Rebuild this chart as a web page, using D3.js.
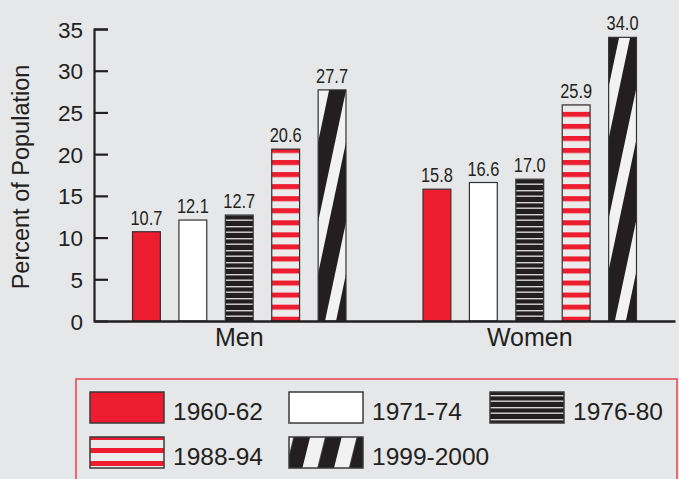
<!DOCTYPE html>
<html>
<head>
<meta charset="utf-8">
<script src="https://cdn.jsdelivr.net/npm/d3@7"></script>
<style>
  html, body { margin: 0; padding: 0; background: #e6e7e8; }
  svg { display: block; }
  text { fill: #231f20; }
</style>
</head>
<body>
<svg id="chart" width="679" height="479"></svg>
<script>
// ---- data ----
const groups = ["Men", "Women"];
const periods = ["1960-62", "1971-74", "1976-80", "1988-94", "1999-2000"];
const menValues = [10.7, 12.1, 12.7, 20.6, 27.7];
const womenValues = [15.8, 16.6, 17.0, 25.9, 34.0];
const yTicks = [0, 5, 10, 15, 20, 25, 30, 35];
const yLabel = "Percent of Population";

const valuesByGroup = { Men: menValues, Women: womenValues };

// ---- styles ----
const RED = "#ed1c2e";
const BLACK = "#231f20";
const LIGHT = "#ebebeb";
const STROKE = "#333333";
const FONT = "'Liberation Sans', Arial, sans-serif";

const svg = d3.select("#chart");
const defs = svg.append("defs");

const y = d3.scaleLinear().domain([0, 35]).range([321, 29]);
const x0 = d3.scaleBand().domain(groups).range([94, 675]).padding(0);
const x1 = d3.scaleBand().domain(periods).range([0, x0.bandwidth()])
  .paddingInner(0.4).paddingOuter(0.83);

// pattern helpers
function redStripes(id, anchorY, period) {
  const p = defs.append("pattern").attr("id", id)
    .attr("patternUnits", "userSpaceOnUse")
    .attr("x", 0).attr("y", anchorY).attr("width", 10).attr("height", period);
  p.append("rect").attr("width", 10).attr("height", period).attr("fill", LIGHT);
  p.append("rect").attr("width", 10).attr("height", 5).attr("fill", RED);
  return `url(#${id})`;
}
function blackLines(id, anchorY) {
  const p = defs.append("pattern").attr("id", id)
    .attr("patternUnits", "userSpaceOnUse")
    .attr("x", 0).attr("y", anchorY).attr("width", 10).attr("height", 12);
  p.append("rect").attr("width", 10).attr("height", 12).attr("fill", BLACK);
  p.append("rect").attr("y", 2).attr("width", 10).attr("height", 1.4).attr("fill", "#d4d4d4");
  p.append("rect").attr("y", 7.5).attr("width", 10).attr("height", 1.4).attr("fill", "#d4d4d4");
  return `url(#${id})`;
}
function diag(id, tx, ty, period, white, angle) {
  const p = defs.append("pattern").attr("id", id)
    .attr("patternUnits", "userSpaceOnUse")
    .attr("width", period).attr("height", 20)
    .attr("patternTransform", `translate(${tx},${ty}) skewX(${-angle})`);
  p.append("rect").attr("width", period).attr("height", 20).attr("fill", BLACK);
  p.append("rect").attr("width", white).attr("height", 20).attr("fill", "#f2f2f2");
  return `url(#${id})`;
}

const barRedStripes = redStripes("redStripesBar", y(0) - 4.3, 12.05);
const barBlackLines = blackLines("blackLinesBar", y(0) - 1);

function fillFor(period, gi, bx, by) {
  switch (period) {
    case "1960-62": return RED;
    case "1971-74": return "#ffffff";
    case "1976-80": return barBlackLines;
    case "1988-94": return barRedStripes;
    default: return diag(`diagBar${gi}`, bx + 18, by, 28, 11, 12);
  }
}

// ---- axes ----
const yAxis = d3.axisLeft(y).tickValues(yTicks).tickSize(-14).tickPadding(11)
  .tickFormat(d3.format("d"));
const gy = svg.append("g").attr("transform", "translate(94,0)").call(yAxis);
gy.select(".domain").attr("stroke", BLACK).attr("stroke-width", 2.2);
gy.selectAll(".tick line").attr("stroke", BLACK).attr("stroke-width", 2.2);
gy.selectAll(".tick text").attr("font-family", FONT).attr("font-size", 22.5)
  .attr("fill", BLACK).attr("dy", "0.36em");
gy.selectAll(".tick").filter(d => d === 0).select("line").remove();

svg.append("text")
  .attr("transform", `translate(29,177) rotate(-90)`)
  .attr("text-anchor", "middle")
  .attr("font-family", FONT).attr("font-size", 23.5)
  .text(yLabel);

// ---- bars ----
groups.forEach((g, gi) => {
  const gEl = svg.append("g").attr("transform", `translate(${x0(g)},0)`);
  const vals = valuesByGroup[g];
  periods.forEach((p, i) => {
    const v = vals[i];
    const bx = x0(g) + x1(p);
    const by = y(v);
    gEl.append("rect")
      .attr("x", x1(p)).attr("y", by)
      .attr("width", x1.bandwidth()).attr("height", y(0) - by)
      .attr("fill", fillFor(p, gi, bx, by))
      .attr("stroke", STROKE).attr("stroke-width", 1.2);
    gEl.append("text")
      .attr("transform", `translate(${x1(p) + x1.bandwidth() / 2},${by - 7}) scale(0.78,1)`)
      .attr("text-anchor", "middle")
      .attr("font-family", FONT).attr("font-size", 21)
      .text(d3.format(".1f")(v));
  });
});

// x axis
const xAxis = d3.axisBottom(x0).tickSize(0).tickPadding(0);
const gx = svg.append("g").attr("transform", `translate(0,${y(0)})`).call(xAxis);
gx.select(".domain").attr("stroke", BLACK).attr("stroke-width", 2.5);
gx.selectAll(".tick text").attr("font-family", FONT).attr("font-size", 25)
  .attr("fill", BLACK).attr("dy", 0).attr("y", 25);

// ---- legend ----
svg.append("rect").attr("x", 76).attr("y", 379).attr("width", 601).attr("height", 130)
  .attr("fill", "none").attr("stroke", "#e8414f").attr("stroke-width", 1.5);

const legendPos = [[90, 392], [289, 392], [490, 392], [90, 437], [289, 437]];
const SW = 74, SH = 31;
periods.forEach((p, i) => {
  const [lx, ly] = legendPos[i];
  let fill;
  if (p === "1960-62") fill = RED;
  else if (p === "1971-74") fill = "#ffffff";
  else if (p === "1976-80") fill = blackLines("blackLinesLeg", ly + 1);
  else if (p === "1988-94") fill = redStripes("redStripesLeg", ly - 2, 13);
  else fill = diag("diagLeg", lx + 13.4, ly + SH, 31.6, 15, 14);
  svg.append("rect").attr("x", lx).attr("y", ly).attr("width", SW).attr("height", SH)
    .attr("fill", fill).attr("stroke", "#3a3a3a").attr("stroke-width", 1.5);
  svg.append("text").attr("x", lx + SW + 9).attr("y", ly + 28)
    .attr("font-family", FONT).attr("font-size", 24.5)
    .text(p);
});
</script>
</body>
</html>
